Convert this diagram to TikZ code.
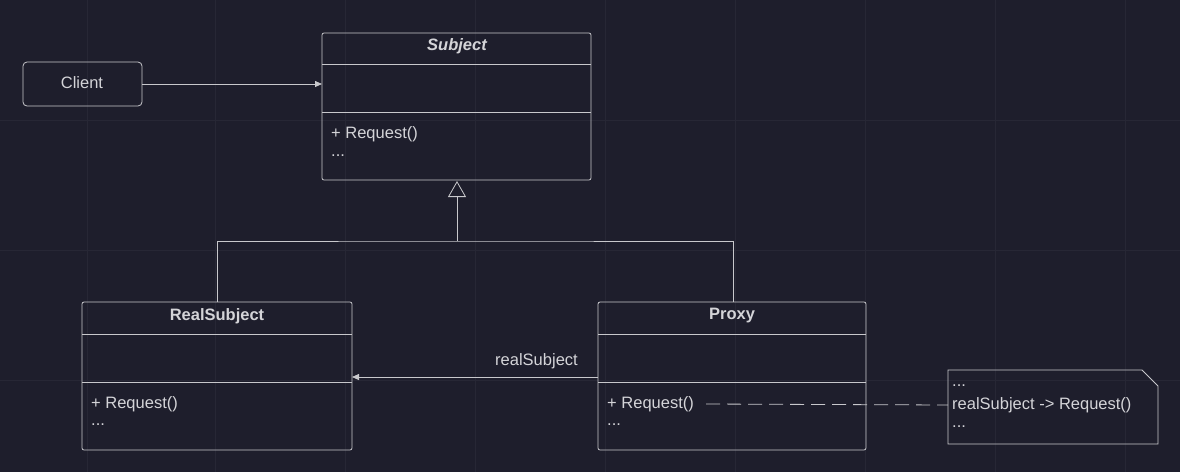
\documentclass[tikz,border=0pt]{standalone}
\usepackage{fontspec}
\setmainfont{Liberation Sans}
\usetikzlibrary{arrows.meta,positioning,calc}
\definecolor{bgdark}{HTML}{1E1E2C}
\definecolor{gridc}{HTML}{272735}
\definecolor{linec}{HTML}{C8C8CC}
\definecolor{textc}{HTML}{D4D4D8}

\begin{document}
\begin{tikzpicture}[
    x=1pt, y=-1pt,
    font=\fontsize{16.5}{19}\selectfont,
    box/.style={draw=linec, rounded corners=2pt, line width=0.8pt},
    sep/.style={draw=linec, line width=0.8pt},
    txt/.style={text=textc, inner sep=0pt},
    head/.style={txt, font=\fontsize{16.5}{19}\selectfont\bfseries},
    conn/.style={draw=linec, line width=0.8pt}
]
    % background and grid
    \fill[bgdark] (0,0) rectangle (1180,472);
    \useasboundingbox (0,0) rectangle (1180,472);
    \foreach \gx in {87,215,345,475,605,735,865,995,1125} \draw[gridc] (\gx,0) -- (\gx,472);
    \foreach \gy in {120,250,380} \draw[gridc] (0,\gy) -- (1180,\gy);

    % Client
    \draw[box, rounded corners=4pt] (23,62) rectangle (142,106);
    \node[txt] (client) at (82,83) {Client};
    \coordinate (clientR) at (142,84);

    % Subject
    \draw[box] (322,33) rectangle (591,180);
    \draw[sep] (322,64) -- (591,64);
    \draw[sep] (322,112) -- (591,112);
    \node[head] (subject) at (457,46) {\itshape Subject};
    \node[txt, anchor=west] (subReq) at (331,134) {+ Request()};
    \node[txt, anchor=west] at (331,156) {...};
    \coordinate (subjectL) at (322,84);
    \coordinate (subjectB) at (457,181);

    % RealSubject
    \draw[box] (82,302) rectangle (352,450);
    \draw[sep] (82,334) -- (352,334);
    \draw[sep] (82,382) -- (352,382);
    \node[head] (real) at (217,316) {RealSubject};
    \node[txt, anchor=west] at (91,404) {+ Request()};
    \node[txt, anchor=west] at (91,425) {...};
    \coordinate (realT) at (217,302);
    \coordinate (realR) at (352,377);

    % Proxy
    \draw[box] (598,302) rectangle (866,450);
    \draw[sep] (598,334) -- (866,334);
    \draw[sep] (598,382) -- (866,382);
    \node[head] (proxy) at (732,316) {Proxy};
    \node[txt, anchor=west] (proxyReq) at (607,404) {+ Request()};
    \node[txt, anchor=west] at (607,425) {...};
    \coordinate (proxyT) at (733,302);
    \coordinate (proxyL) at (598,377);

    % Note
    \draw[conn] (948,370) -- (1142,370) -- (1158,386) -- (1158,444) -- (948,444) -- cycle;
    \node[txt, anchor=west] at (952,386) {...};
    \node[txt, anchor=west] (noteReq) at (952,405) {realSubject -> Request()};
    \node[txt, anchor=west] at (952,427) {...};

    % Connectors
    \draw[conn, -{Triangle[length=7pt,width=6pt]}] (clientR) -- (subjectL);
    \draw[conn] (realT) |- (457,241) -| (proxyT);
    \draw[conn, -{Triangle[open,length=16pt,width=18pt]}] (457,241) -- (subjectB);
    \draw[conn, -{Triangle[length=7pt,width=6pt]}] (proxyL) -- node[txt, above=8pt, pos=0.25] {realSubject} (realR);
    \draw[conn, dash pattern=on 14pt off 7pt] ($(proxyReq.east)+(12,0)$) -- ($(noteReq.west)+(-4,0)$);
\end{tikzpicture}
\end{document}
